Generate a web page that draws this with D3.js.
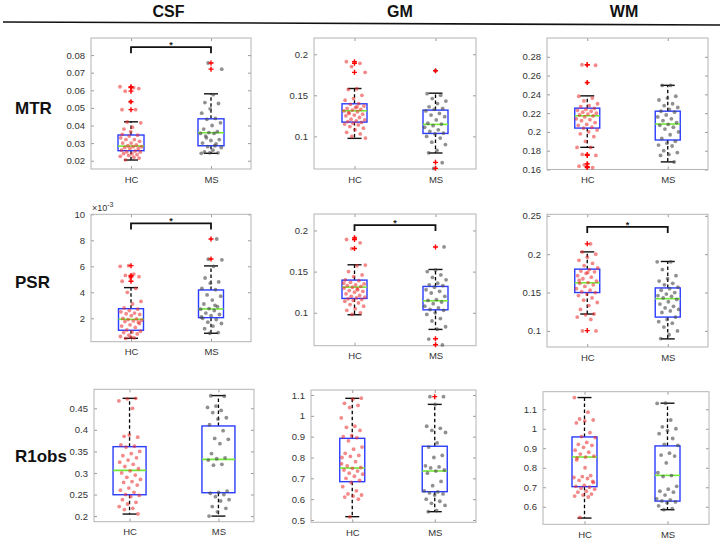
<!DOCTYPE html>
<html><head><meta charset="utf-8">
<script src="https://cdn.jsdelivr.net/npm/d3@7"></script>
<style>body{margin:0;background:#fff;} svg{display:block;font-family:"Liberation Sans",Arial,sans-serif;}</style>
</head><body><svg id="c" width="722" height="539"></svg>
<script>
// ---------- labels ----------
const columnTitles = ["CSF", "GM", "WM"];
const rowTitles = ["MTR", "PSR", "R1obs"];
const groups = ["HC", "MS"];

// ---------- box stats: [lower whisker, q1, median, q3, upper whisker] ----------
const csfMtrHCStats = [0.0204, 0.0257, 0.0283, 0.0346, 0.0421];
const csfMtrMSStats = [0.0242, 0.0285, 0.0359, 0.0438, 0.058];
const gmMtrHCStats = [0.0976, 0.1174, 0.1312, 0.1397, 0.1583];
const gmMtrMSStats = [0.0798, 0.1036, 0.1146, 0.132, 0.1526];
const wmMtrHCStats = [0.1836, 0.2041, 0.2172, 0.2253, 0.2384];
const wmMtrMSStats = [0.1681, 0.1914, 0.2084, 0.2221, 0.2496];
const csfPsrHCStats = [0.46, 1.08, 1.92, 2.74, 4.36];
const csfPsrMSStats = [0.85, 2.05, 2.72, 4.18, 6.03];
const gmPsrHCStats = [0.0976, 0.1174, 0.1312, 0.1397, 0.1583];
const gmPsrMSStats = [0.0798, 0.1036, 0.1146, 0.132, 0.1526];
const wmPsrHCStats = [0.122, 0.150, 0.1627, 0.1805, 0.203];
const wmPsrMSStats = [0.0896, 0.118, 0.142, 0.156, 0.1905];
const csfR1HCStats = [0.2047, 0.2495, 0.306, 0.361, 0.473];
const csfR1MSStats = [0.200, 0.2542, 0.3316, 0.409, 0.4794];
const gmR1HCStats = [0.516, 0.684, 0.7496, 0.892, 1.084];
const gmR1MSStats = [0.54, 0.636, 0.7352, 0.854, 1.055];
const wmR1HCStats = [0.542, 0.703, 0.855, 0.958, 1.16];
const wmR1MSStats = [0.585, 0.629, 0.761, 0.912, 1.131];

// ---------- outliers ----------
const csfMtrHCOut = [0.062, 0.0615, 0.0595, 0.0535, 0.049];
const csfMtrMSOut = [0.0755, 0.072];
const gmMtrHCOut = [0.191, 0.189, 0.178];
const gmMtrMSOut = [0.18, 0.0684, 0.0611];
const wmMtrHCOut = [0.2715, 0.2715, 0.2525, 0.176, 0.175, 0.166, 0.163, 0.162];
const wmMtrMSOut = [];
const csfPsrHCOut = [6.05, 5.3, 5.2, 4.85];
const csfPsrMSOut = [8.1, 6.56];
const gmPsrHCOut = [0.191, 0.189, 0.178];
const gmPsrMSOut = [0.18, 0.0684, 0.0611];
const wmPsrHCOut = [0.2135, 0.1004];
const wmPsrMSOut = [];
const csfR1HCOut = [];
const csfR1MSOut = [];
const gmR1HCOut = [];
const gmR1MSOut = [1.092];
const wmR1HCOut = [];
const wmR1MSOut = [];

// ---------- individual subjects ----------
const csfMtrHC = [0.062,0.0615,0.0595,0.061,0.0535,0.049,0.049,0.042,0.0415,0.039,0.038,0.0345,0.034,0.033,0.032,0.032,0.031,0.030,0.030,0.029,0.0285,0.028,0.028,0.0275,0.027,0.027,0.026,0.0255,0.025,0.025,0.024,0.024,0.0235,0.023,0.0225,0.022,0.0205,0.0215,0.0365,0.035];
const csfMtrMS = [0.0755,0.072,0.0575,0.053,0.0525,0.0495,0.047,0.044,0.0435,0.0415,0.040,0.038,0.0365,0.036,0.0355,0.0355,0.034,0.032,0.0315,0.030,0.0295,0.028,0.0275,0.026,0.025,0.0245,0.0245,0.0242,0.0285,0.033];
const gmMtrHC = [0.191,0.189,0.185,0.178,0.158,0.157,0.150,0.146,0.144,0.140,0.139,0.137,0.135,0.134,0.133,0.132,0.131,0.130,0.128,0.127,0.126,0.125,0.123,0.121,0.120,0.119,0.118,0.117,0.116,0.115,0.114,0.112,0.110,0.108,0.105,0.103,0.100,0.098,0.136,0.129];
const gmMtrMS = [0.180,0.152,0.150,0.146,0.143,0.140,0.136,0.134,0.133,0.131,0.128,0.126,0.124,0.120,0.116,0.115,0.113,0.111,0.108,0.106,0.104,0.103,0.100,0.098,0.093,0.090,0.083,0.080,0.068,0.061];
const wmMtrHC = [0.2715,0.271,0.2525,0.238,0.236,0.233,0.230,0.228,0.227,0.225,0.224,0.223,0.222,0.221,0.220,0.219,0.218,0.217,0.216,0.214,0.213,0.212,0.210,0.208,0.207,0.205,0.204,0.202,0.200,0.198,0.195,0.190,0.1835,0.1835,0.176,0.175,0.166,0.1635,0.162,0.165];
const wmMtrMS = [0.2495,0.2495,0.238,0.236,0.234,0.230,0.228,0.226,0.224,0.222,0.221,0.218,0.216,0.214,0.212,0.210,0.208,0.207,0.205,0.203,0.200,0.197,0.193,0.190,0.188,0.186,0.185,0.180,0.178,0.176,0.175,0.168];
const csfPsrHC = [6.05,6.0,5.4,5.3,5.2,5.1,4.85,4.3,4.0,3.3,3.1,2.8,2.7,2.6,2.5,2.4,2.35,2.3,2.2,2.0,1.95,1.9,1.85,1.8,1.75,1.7,1.5,1.4,1.3,1.1,1.0,0.95,0.9,0.8,0.7,0.6,0.5,0.45,1.6,0.55];
const csfPsrMS = [8.1,6.55,6.5,6.0,5.1,4.8,4.7,4.3,4.2,3.8,3.7,3.4,3.1,2.9,2.75,2.7,2.6,2.4,2.3,2.2,2.0,1.9,1.7,1.6,1.4,1.2,0.9,0.85,2.1,3.0];
const gmPsrHC = [0.191,0.189,0.185,0.178,0.158,0.157,0.150,0.146,0.144,0.140,0.139,0.137,0.135,0.134,0.133,0.132,0.131,0.130,0.128,0.127,0.126,0.125,0.123,0.121,0.120,0.119,0.118,0.117,0.116,0.115,0.114,0.112,0.110,0.108,0.105,0.103,0.100,0.098,0.136,0.129];
const gmPsrMS = [0.180,0.152,0.150,0.146,0.143,0.140,0.136,0.134,0.133,0.131,0.128,0.126,0.124,0.120,0.116,0.115,0.113,0.111,0.108,0.106,0.104,0.103,0.100,0.098,0.093,0.090,0.083,0.080,0.068,0.061];
const wmPsrHC = [0.2135,0.203,0.200,0.196,0.192,0.188,0.185,0.182,0.180,0.178,0.177,0.175,0.172,0.170,0.168,0.165,0.163,0.162,0.160,0.158,0.155,0.153,0.151,0.150,0.148,0.146,0.143,0.140,0.137,0.133,0.128,0.122,0.121,0.118,0.115,0.100,0.100,0.176,0.166];
const wmPsrMS = [0.190,0.190,0.180,0.172,0.168,0.165,0.162,0.160,0.157,0.155,0.153,0.150,0.148,0.146,0.145,0.143,0.141,0.138,0.135,0.132,0.130,0.128,0.126,0.124,0.118,0.115,0.112,0.110,0.105,0.100,0.095,0.090];
const csfR1HC = [0.473,0.472,0.467,0.450,0.385,0.383,0.388,0.365,0.362,0.360,0.350,0.345,0.340,0.335,0.330,0.325,0.320,0.315,0.310,0.305,0.300,0.295,0.290,0.285,0.280,0.278,0.272,0.265,0.260,0.255,0.250,0.248,0.245,0.238,0.232,0.228,0.222,0.218,0.215,0.205];
const csfR1MS = [0.479,0.478,0.455,0.452,0.445,0.440,0.428,0.425,0.412,0.398,0.380,0.378,0.368,0.345,0.335,0.333,0.330,0.320,0.318,0.258,0.255,0.253,0.250,0.245,0.238,0.235,0.222,0.218,0.210,0.200];
const gmR1HC = [1.085,1.080,1.060,1.050,1.040,0.990,0.950,0.945,0.930,0.905,0.900,0.895,0.880,0.850,0.840,0.820,0.810,0.805,0.800,0.780,0.760,0.752,0.748,0.740,0.735,0.725,0.720,0.710,0.700,0.690,0.680,0.660,0.640,0.625,0.620,0.615,0.610,0.600,0.515,0.770];
const gmR1MS = [1.092,1.092,1.055,0.950,0.940,0.930,0.920,0.870,0.850,0.810,0.800,0.760,0.755,0.750,0.740,0.735,0.725,0.685,0.665,0.640,0.635,0.630,0.625,0.620,0.600,0.590,0.580,0.570,0.545,0.540];
const wmR1HC = [1.160,1.085,1.050,1.045,1.040,1.030,0.980,0.960,0.955,0.930,0.920,0.915,0.905,0.890,0.880,0.870,0.860,0.855,0.850,0.760,0.755,0.750,0.745,0.735,0.730,0.710,0.705,0.700,0.695,0.690,0.680,0.675,0.665,0.660,0.655,0.650,0.545,0.725,0.800,0.840];
const wmR1MS = [1.131,1.130,1.045,1.010,1.000,0.990,0.975,0.950,0.920,0.915,0.875,0.865,0.860,0.825,0.775,0.760,0.755,0.705,0.690,0.680,0.675,0.660,0.640,0.635,0.630,0.625,0.620,0.605,0.590,0.585];

// ---------- ticks ----------
const csfMtrTicks = [0.02,0.03,0.04,0.05,0.06,0.07,0.08];
const gmMtrTicks = [0.1,0.15,0.2];
const wmMtrTicks = [0.16,0.18,0.2,0.22,0.24,0.26,0.28];
const csfPsrTicks = [2,4,6,8,10];
const gmPsrTicks = [0.1,0.15,0.2];
const wmPsrTicks = [0.1,0.15,0.2,0.25];
const csfR1Ticks = [0.2,0.25,0.3,0.35,0.4,0.45];
const gmR1Ticks = [0.5,0.6,0.7,0.8,0.9,1,1.1];
const wmR1Ticks = [0.6,0.7,0.8,0.9,1,1.1];

// ---------- significance (bracket level in data units; null = none) ----------
const sigLevels = [0.0845, null, null, 9.3, 0.2065, 0.2355, null, null, null];

// ---------- panel layout (positions/scales, not data) ----------
const panels = [
  {x0:91, x1:251, y0:38, y1:169, yDom:[0.0153,0.0897], xDom:[0.5,2.5], bw:26, ticks:csfMtrTicks, hc:csfMtrHC, ms:csfMtrMS, st:[csfMtrHCStats,csfMtrMSStats], out:[csfMtrHCOut,csfMtrMSOut]},
  {x0:314, x1:476, y0:38, y1:169, yDom:[0.0603,0.2198], xDom:[0.5,2.5], bw:25, ticks:gmMtrTicks, hc:gmMtrHC, ms:gmMtrMS, st:[gmMtrHCStats,gmMtrMSStats], out:[gmMtrHCOut,gmMtrMSOut]},
  {x0:547, x1:708, y0:38, y1:169.5, yDom:[0.16,0.30], xDom:[0.5,2.5], bw:25, ticks:wmMtrTicks, hc:wmMtrHC, ms:wmMtrMS, st:[wmMtrHCStats,wmMtrMSStats], out:[wmMtrHCOut,wmMtrMSOut]},
  {x0:91, x1:251, y0:214.3, y1:341.7, yDom:[0.2,10], xDom:[0.5,2.5], bw:25, ticks:csfPsrTicks, hc:csfPsrHC, ms:csfPsrMS, st:[csfPsrHCStats,csfPsrMSStats], out:[csfPsrHCOut,csfPsrMSOut], expo:true},
  {x0:314, x1:476, y0:214, y1:345.7, yDom:[0.06,0.22], xDom:[0.5,2.5], bw:25, ticks:gmPsrTicks, hc:gmPsrHC, ms:gmPsrMS, st:[gmPsrHCStats,gmPsrMSStats], out:[gmPsrHCOut,gmPsrMSOut]},
  {x0:547, x1:708, y0:214.3, y1:347, yDom:[0.079,0.252], xDom:[0.5,2.5], bw:25, ticks:wmPsrTicks, hc:wmPsrHC, ms:wmPsrMS, st:[wmPsrHCStats,wmPsrMSStats], out:[wmPsrHCOut,wmPsrMSOut]},
  {x0:94, x1:254, y0:389.3, y1:521.7, yDom:[0.187,0.494], xDom:[0.6,2.4], bw:33, ticks:csfR1Ticks, hc:csfR1HC, ms:csfR1MS, st:[csfR1HCStats,csfR1MSStats], out:[csfR1HCOut,csfR1MSOut]},
  {x0:311, x1:476, y0:390, y1:522.3, yDom:[0.489,1.124], xDom:[0.5,2.5], bw:25, ticks:gmR1Ticks, hc:gmR1HC, ms:gmR1MS, st:[gmR1HCStats,gmR1MSStats], out:[gmR1HCOut,gmR1MSOut]},
  {x0:543, x1:709, y0:391.7, y1:524.3, yDom:[0.51,1.19], xDom:[0.5,2.5], bw:25, ticks:wmR1Ticks, hc:wmR1HC, ms:wmR1MS, st:[wmR1HCStats,wmR1MSStats], out:[wmR1HCOut,wmR1MSOut]}
];

const svg = d3.select("#c");

// header
const colCenters = [168.5, 400, 624];
svg.selectAll("text.col").data(columnTitles).join("text")
  .attr("x", (d,i) => colCenters[i]).attr("y", 17)
  .attr("text-anchor","middle").attr("font-size",16).attr("font-weight","bold").attr("fill","#111").text(d => d);
svg.append("line").attr("x1",3).attr("y1",22).attr("x2",720).attr("y2",25).attr("stroke","#111").attr("stroke-width",1.6);

const rowBaselines = [114, 288, 462];
svg.selectAll("text.row").data(rowTitles).join("text")
  .attr("x", 15).attr("y", (d,i) => rowBaselines[i])
  .attr("font-size",17).attr("font-weight","bold").attr("fill","#111").text(d => d);

const fmt = d3.format("~g");
const golden = 0.6180339887;

panels.forEach((p, pi) => {
  const g = svg.append("g");
  const x = d3.scaleLinear().domain(p.xDom).range([p.x0, p.x1]);
  const y = d3.scaleLinear().domain(p.yDom).range([p.y1, p.y0]);

  // axes (MATLAB-like, inward ticks, boxed)
  const yl = g.append("g").attr("transform",`translate(${p.x0},0)`)
    .call(d3.axisLeft(y).tickValues(p.ticks).tickFormat(fmt).tickSizeInner(-3).tickSizeOuter(0).tickPadding(6));
  const yr = g.append("g").attr("transform",`translate(${p.x1},0)`)
    .call(d3.axisRight(y).tickValues(p.ticks).tickFormat("").tickSizeInner(-3).tickSizeOuter(0));
  const xb = g.append("g").attr("transform",`translate(0,${p.y1})`)
    .call(d3.axisBottom(x).tickValues([1,2]).tickFormat((d,i)=>groups[i]).tickSizeInner(-3).tickSizeOuter(0).tickPadding(7));
  const xt = g.append("g").attr("transform",`translate(0,${p.y0})`)
    .call(d3.axisTop(x).tickValues([1,2]).tickFormat("").tickSizeInner(-3).tickSizeOuter(0));
  [yl,yr,xb,xt].forEach(a => {
    a.select(".domain").remove();
    a.selectAll("line").attr("stroke","#9a9a9a");
    a.selectAll("text").attr("fill","#333").attr("font-size",9.5).attr("font-family",'"Liberation Sans",Arial,sans-serif');
  });
  g.append("rect").attr("x",p.x0).attr("y",p.y0).attr("width",p.x1-p.x0).attr("height",p.y1-p.y0)
    .attr("fill","none").attr("stroke","#b4b4b4").attr("stroke-width",1);

  if (p.expo) {
    const t = g.append("text").attr("x", p.x0 + 1).attr("y", p.y0 - 3).attr("font-size",9).attr("fill","#333");
    t.append("tspan").text("×10");
    t.append("tspan").attr("dy",-4).attr("font-size",7).text("-3");
  }

  // boxes
  p.st.forEach((s, gi) => {
    const cx = x(gi + 1);
    const hw = p.bw / 2, cap = 7;
    g.append("line").attr("x1",cx).attr("x2",cx).attr("y1",y(s[3])).attr("y2",y(s[4]))
      .attr("stroke","#000").attr("stroke-width",1.3).attr("stroke-dasharray","3.5,2.5");
    g.append("line").attr("x1",cx).attr("x2",cx).attr("y1",y(s[1])).attr("y2",y(s[0]))
      .attr("stroke","#000").attr("stroke-width",1.3).attr("stroke-dasharray","3.5,2.5");
    [s[0], s[4]].forEach(v => g.append("line").attr("x1",cx-cap).attr("x2",cx+cap).attr("y1",y(v)).attr("y2",y(v))
      .attr("stroke","#111").attr("stroke-width",1.4));
    g.append("rect").attr("x",cx-hw).attr("y",y(s[3])).attr("width",p.bw).attr("height",y(s[1])-y(s[3]))
      .attr("fill","none").attr("stroke","#2a3cff").attr("stroke-width",1.4);
    g.append("line").attr("x1",cx-hw).attr("x2",cx+hw).attr("y1",y(s[2])).attr("y2",y(s[2]))
      .attr("stroke","#74e83a").attr("stroke-width",1.6);
  });

  // jittered subjects
  [p.hc, p.ms].forEach((vals, gi) => {
    const cx = x(gi + 1);
    g.selectAll(null).data(vals).join("circle")
      .attr("cx", (d,i) => cx + (((i * golden + 0.37 * gi + 0.13 * pi) % 1) - 0.5) * 22)
      .attr("cy", d => y(d)).attr("r", 1.9)
      .attr("fill", gi === 0 ? "rgba(235,40,40,0.55)" : "rgba(70,70,70,0.6)");
  });

  // outliers (red +)
  p.out.forEach((vals, gi) => {
    const cx = x(gi + 1);
    vals.forEach(v => {
      g.append("path").attr("d", `M${cx-2.5},${y(v)}H${cx+2.5}M${cx},${y(v)-2.5}V${y(v)+2.5}`)
        .attr("stroke","#ff0000").attr("stroke-width",1.4).attr("fill","none");
    });
  });

  // significance bracket
  const lev = sigLevels[pi];
  if (lev !== null) {
    const by = y(lev), xa = x(1), xbb = x(2);
    g.append("path").attr("d", `M${xa},${by+6}V${by}H${xbb}V${by+6}`)
      .attr("fill","none").attr("stroke","#111").attr("stroke-width",1.8);
    g.append("text").attr("x",(xa+xbb)/2).attr("y",by+1).attr("text-anchor","middle")
      .attr("font-size",9).attr("font-weight","bold").attr("fill","#222").text("*");
  }
});
</script></body></html>
